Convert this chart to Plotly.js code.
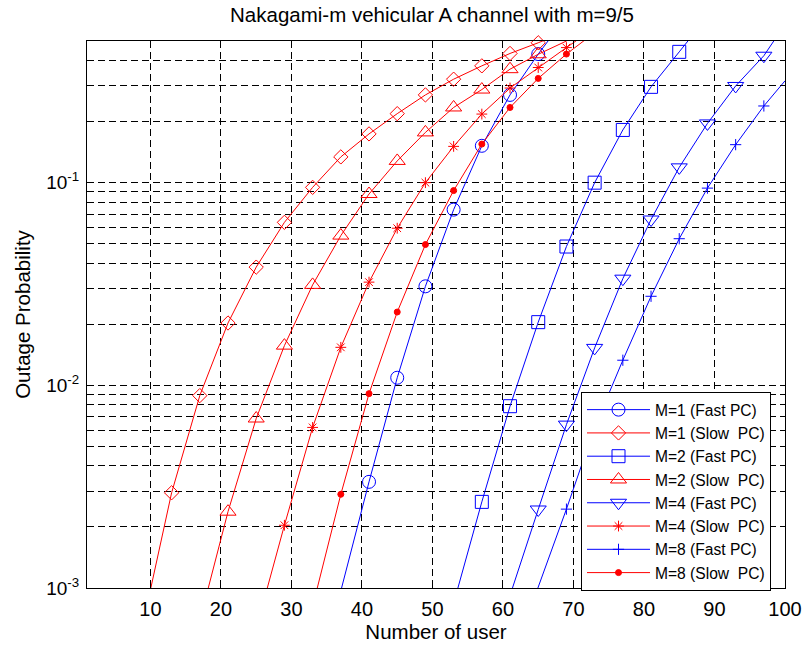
<!DOCTYPE html>
<html>
<head>
<meta charset="utf-8">
<script src="https://cdn.plot.ly/plotly-3.0.1.min.js"></script>
<style>html,body{margin:0;padding:0;background:#fff;}#chart{width:802px;height:647px;}</style>
</head>
<body>
<div id="chart"></div>
<script>
// Data: first and last point of each series are line-only (curve leaving the axes)
const m1FastX = [36, 41, 45, 49, 53, 57, 61, 65, 69];
const m1FastY = [0.00071, 0.00334, 0.0109, 0.0308, 0.0736, 0.152, 0.271, 0.431, 0.66];
const m1SlowX = [9, 13, 17, 21, 25, 29, 33, 37, 41, 45, 49, 53, 57, 61, 65, 69];
const m1SlowY = [0.00068, 0.00295, 0.0089, 0.0203, 0.0383, 0.0637, 0.0948, 0.134, 0.174, 0.219, 0.271, 0.324, 0.377, 0.434, 0.49, 0.56];
const m2FastX = [53, 57, 61, 65, 69, 73, 77, 81, 85, 89];
const m2FastY = [0.00084, 0.00266, 0.00789, 0.0205, 0.0484, 0.100, 0.182, 0.297, 0.442, 0.66];
const m2SlowX = [17, 21, 25, 29, 33, 37, 41, 45, 49, 53, 57, 61, 65, 69, 73];
const m2SlowY = [0.00069, 0.00238, 0.00686, 0.0157, 0.0313, 0.0548, 0.0879, 0.128, 0.177, 0.235, 0.288, 0.363, 0.43, 0.5, 0.6];
const m4FastX = [60, 65, 69, 73, 77, 81, 85, 89, 93, 97, 101];
const m4FastY = [0.00072, 0.00244, 0.0064, 0.0153, 0.0336, 0.0658, 0.119, 0.196, 0.30, 0.423, 0.68];
const m4SlowX = [25, 29, 33, 37, 41, 45, 49, 53, 57, 61, 65, 69, 73];
const m4SlowY = [0.00063, 0.00204, 0.0062, 0.0154, 0.0323, 0.0596, 0.100, 0.151, 0.218, 0.293, 0.37, 0.464, 0.58];
const m8FastX = [64, 69, 73, 77, 81, 85, 89, 93, 97, 100];
const m8FastY = [0.00081, 0.00245, 0.0062, 0.0133, 0.0275, 0.0529, 0.094, 0.154, 0.239, 0.318];
const m8SlowX = [33, 37, 41, 45, 49, 53, 57, 61, 65, 69, 73];
const m8SlowY = [0.00081, 0.0029, 0.0091, 0.023, 0.0495, 0.0914, 0.155, 0.235, 0.327, 0.431, 0.55];

const seriesNames = ['M=1 (Fast PC)', 'M=1 (Slow\u00a0 PC)', 'M=2 (Fast PC)', 'M=2 (Slow\u00a0 PC)',
                     'M=4 (Fast PC)', 'M=4 (Slow\u00a0 PC)', 'M=8 (Fast PC)', 'M=8 (Slow\u00a0 PC)'];
const xTickVals = [10, 20, 30, 40, 50, 60, 70, 80, 90, 100];
const yDecades = [0.001, 0.01, 0.1];
const yDecadeLabels = ['10<sup>-3</sup>', '10<sup>-2</sup>', '10<sup>-1</sup>'];

const BLUE = '#0000ff', RED = '#ff0000';
const styles = [
  {c: BLUE, s: 'circle-open', z: 13},
  {c: RED, s: 'diamond-open', z: 11},
  {c: BLUE, s: 'square-open', z: 13},
  {c: RED, s: 'triangle-up-open', z: 14},
  {c: BLUE, s: 'triangle-down-open', z: 14},
  {c: RED, s: 'asterisk-open', z: 9},
  {c: BLUE, s: 'cross-thin-open', z: 8},
  {c: RED, s: 'circle', z: 6}
];
const allX = [m1FastX, m1SlowX, m2FastX, m2SlowX, m4FastX, m4SlowX, m8FastX, m8SlowX];
const allY = [m1FastY, m1SlowY, m2FastY, m2SlowY, m4FastY, m4SlowY, m8FastY, m8SlowY];

const traces = [];
// extension (line-only) traces first
allX.forEach((xs, i) => {
  const ys = allY[i], n = xs.length;
  traces.push({
    x: [xs[0], xs[1], null, xs[n-2], xs[n-1]],
    y: [ys[0], ys[1], null, ys[n-2], ys[n-1]],
    mode: 'lines', showlegend: false, connectgaps: false,
    line: {color: styles[i].c, width: 1}, hoverinfo: 'skip'
  });
});
allX.forEach((xs, i) => {
  const ys = allY[i], st = styles[i];
  traces.push({
    x: xs.slice(1, -1), y: ys.slice(1, -1),
    name: seriesNames[i], mode: 'lines+markers', cliponaxis: false,
    line: {color: st.c, width: 1},
    marker: {symbol: st.s, size: st.z, color: st.c, line: {color: st.c, width: 1}}
  });
});

// y grid values: every 1..9 multiple within range
const yGridVals = [], yGridText = [];
[0.001, 0.01, 0.1].forEach(d => {
  for (let k = 1; k <= 9; k++) {
    const v = +(d * k).toPrecision(3);
    if (v <= 0.5) {
      yGridVals.push(v);
      const di = yDecades.indexOf(v);
      yGridText.push(di >= 0 ? yDecadeLabels[di] : '');
    }
  }
});

const FONT = 'Liberation Sans, Arial, Helvetica, sans-serif';
const layout = {
  width: 802, height: 647,
  margin: {l: 87, r: 17, t: 41, b: 59},
  paper_bgcolor: '#fff', plot_bgcolor: '#fff',
  font: {family: FONT, color: '#000'},
  title: {text: 'Nakagami-m vehicular A channel with m=9/5', font: {size: 20.5, family: FONT, color: '#000'},
          x: (432 - 87) / 698, xref: 'paper', xanchor: 'center', y: 1 - 15/647, yref: 'container', yanchor: 'middle'},
  xaxis: {
    range: [1, 100], tickvals: xTickVals, ticktext: xTickVals.map(String),
    ticks: 'inside', ticklen: 5, tickcolor: '#000', mirror: 'allticks',
    showline: true, linecolor: '#000', linewidth: 1,
    showgrid: true, gridcolor: '#000', gridwidth: 1, griddash: '7px,4px',
    zeroline: false, tickfont: {size: 20, family: FONT}, ticklabelstandoff: 3,
    title: {text: 'Number of user', font: {size: 20.5, family: FONT}, standoff: 3}
  },
  yaxis: {
    type: 'log', range: [-3, Math.log10(0.5)],
    tickvals: yGridVals, ticktext: yGridText,
    ticks: 'inside', ticklen: 5, tickcolor: '#000', mirror: 'allticks',
    showline: true, linecolor: '#000', linewidth: 1,
    showgrid: true, gridcolor: '#000', gridwidth: 1, griddash: '7px,4px',
    zeroline: false, tickfont: {size: 19, family: FONT}, ticklabelstandoff: 3,
    title: {text: 'Outage Probability', font: {size: 20.5, family: FONT}, standoff: 10}
  },
  legend: {
    x: (581 - 87) / 698, y: (588 - 392) / 547, xanchor: 'left', yanchor: 'top',
    bgcolor: '#fff', bordercolor: '#000', borderwidth: 1,
    font: {size: 15.6, family: FONT, color: '#000'}, itemwidth: 63, tracegroupgap: 0
  },
  showlegend: true
};

Plotly.newPlot('chart', traces, layout, {staticPlot: true, displayModeBar: false});
</script>
</body>
</html>
